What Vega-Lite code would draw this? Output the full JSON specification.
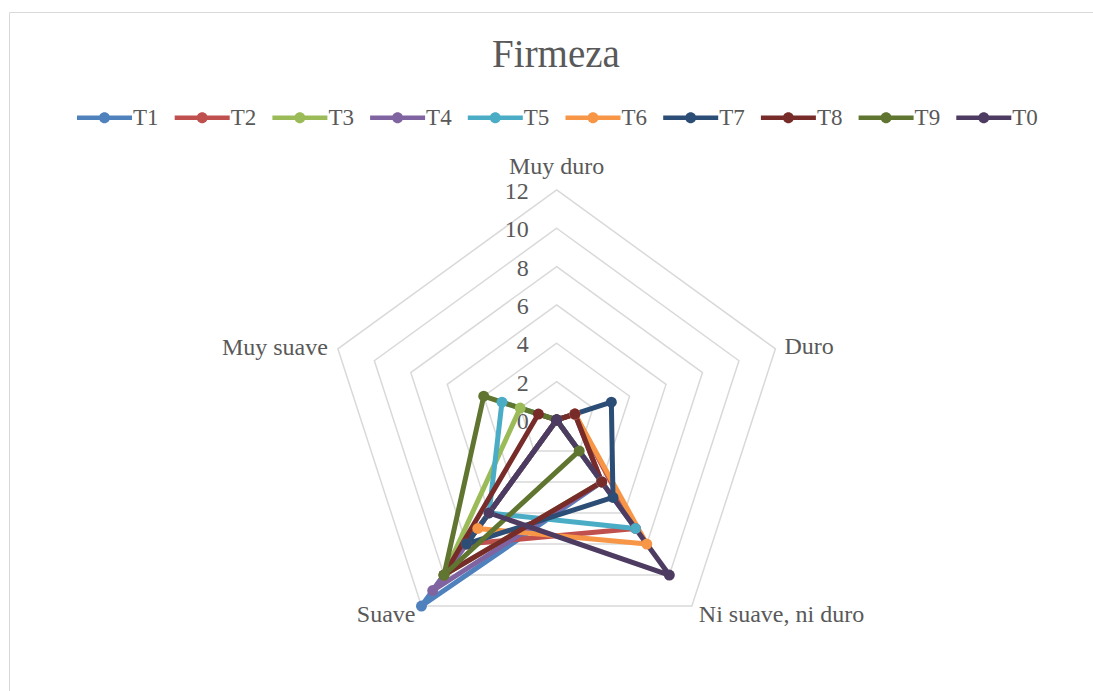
{
  "$schema": "https://vega.github.io/schema/vega-lite/v6.json",
  "width": 1084,
  "height": 679,
  "autosize": {"type": "none"},
  "padding": {"left": 9, "top": 12, "right": 0, "bottom": 0},
  "background": "white",
  "title": {
    "text": "Firmeza",
    "font": "Liberation Serif",
    "fontSize": 39,
    "fontWeight": "normal",
    "color": "#595959",
    "anchor": "middle",
    "baseline": "alphabetic",
    "offset": -94,
    "dx": 5
  },
  "datasets": {
    "firmeza": [
      {"t": "T1", "cat": "Muy duro", "v": 0}, {"t": "T1", "cat": "Duro", "v": 0}, {"t": "T1", "cat": "Ni suave, ni duro", "v": 4}, {"t": "T1", "cat": "Suave", "v": 12}, {"t": "T1", "cat": "Muy suave", "v": 0},
      {"t": "T2", "cat": "Muy duro", "v": 0}, {"t": "T2", "cat": "Duro", "v": 1}, {"t": "T2", "cat": "Ni suave, ni duro", "v": 7}, {"t": "T2", "cat": "Suave", "v": 8}, {"t": "T2", "cat": "Muy suave", "v": 0},
      {"t": "T3", "cat": "Muy duro", "v": 0}, {"t": "T3", "cat": "Duro", "v": 0}, {"t": "T3", "cat": "Ni suave, ni duro", "v": 4}, {"t": "T3", "cat": "Suave", "v": 10}, {"t": "T3", "cat": "Muy suave", "v": 2},
      {"t": "T4", "cat": "Muy duro", "v": 0}, {"t": "T4", "cat": "Duro", "v": 1}, {"t": "T4", "cat": "Ni suave, ni duro", "v": 4}, {"t": "T4", "cat": "Suave", "v": 11}, {"t": "T4", "cat": "Muy suave", "v": 0},
      {"t": "T5", "cat": "Muy duro", "v": 0}, {"t": "T5", "cat": "Duro", "v": 0}, {"t": "T5", "cat": "Ni suave, ni duro", "v": 7}, {"t": "T5", "cat": "Suave", "v": 6}, {"t": "T5", "cat": "Muy suave", "v": 3},
      {"t": "T6", "cat": "Muy duro", "v": 0}, {"t": "T6", "cat": "Duro", "v": 1}, {"t": "T6", "cat": "Ni suave, ni duro", "v": 8}, {"t": "T6", "cat": "Suave", "v": 7}, {"t": "T6", "cat": "Muy suave", "v": 0},
      {"t": "T7", "cat": "Muy duro", "v": 0}, {"t": "T7", "cat": "Duro", "v": 3}, {"t": "T7", "cat": "Ni suave, ni duro", "v": 5}, {"t": "T7", "cat": "Suave", "v": 8}, {"t": "T7", "cat": "Muy suave", "v": 0},
      {"t": "T8", "cat": "Muy duro", "v": 0}, {"t": "T8", "cat": "Duro", "v": 1}, {"t": "T8", "cat": "Ni suave, ni duro", "v": 4}, {"t": "T8", "cat": "Suave", "v": 10}, {"t": "T8", "cat": "Muy suave", "v": 1},
      {"t": "T9", "cat": "Muy duro", "v": 0}, {"t": "T9", "cat": "Duro", "v": 0}, {"t": "T9", "cat": "Ni suave, ni duro", "v": 2}, {"t": "T9", "cat": "Suave", "v": 10}, {"t": "T9", "cat": "Muy suave", "v": 4},
      {"t": "T0", "cat": "Muy duro", "v": 0}, {"t": "T0", "cat": "Duro", "v": 0}, {"t": "T0", "cat": "Ni suave, ni duro", "v": 10}, {"t": "T0", "cat": "Suave", "v": 6}, {"t": "T0", "cat": "Muy suave", "v": 0}
    ],
    "rings": [
      {"level": 2, "k": 0}, {"level": 2, "k": 1}, {"level": 2, "k": 2}, {"level": 2, "k": 3}, {"level": 2, "k": 4},
      {"level": 4, "k": 0}, {"level": 4, "k": 1}, {"level": 4, "k": 2}, {"level": 4, "k": 3}, {"level": 4, "k": 4},
      {"level": 6, "k": 0}, {"level": 6, "k": 1}, {"level": 6, "k": 2}, {"level": 6, "k": 3}, {"level": 6, "k": 4},
      {"level": 8, "k": 0}, {"level": 8, "k": 1}, {"level": 8, "k": 2}, {"level": 8, "k": 3}, {"level": 8, "k": 4},
      {"level": 10, "k": 0}, {"level": 10, "k": 1}, {"level": 10, "k": 2}, {"level": 10, "k": 3}, {"level": 10, "k": 4},
      {"level": 12, "k": 0}, {"level": 12, "k": 1}, {"level": 12, "k": 2}, {"level": 12, "k": 3}, {"level": 12, "k": 4}
    ],
    "ticks": [
      {"level": 0}, {"level": 2}, {"level": 4}, {"level": 6}, {"level": 8}, {"level": 10}, {"level": 12}
    ]
  },
  "layer": [
    {
      "data": {"name": "rings"},
      "transform": [
        {"calculate": "datum.k * 2 * PI / 5", "as": "a"},
        {"calculate": "datum.level * sin(datum.a)", "as": "x"},
        {"calculate": "datum.level * cos(datum.a)", "as": "y"}
      ],
      "mark": {"type": "line", "interpolate": "linear-closed", "stroke": "#D9D9D9", "strokeWidth": 1.5},
      "encoding": {
        "x": {"field": "x", "type": "quantitative", "scale": {"domain": [-28.57, 27.98], "nice": false, "zero": false}, "axis": null},
        "y": {"field": "y", "type": "quantitative", "scale": {"domain": [-14.14, 21.28], "nice": false, "zero": false}, "axis": null},
        "detail": {"field": "level", "type": "nominal"},
        "order": {"field": "k", "type": "quantitative"}
      }
    },
    {
      "data": {"name": "ticks"},
      "transform": [{"calculate": "datum.level", "as": "y"}, {"calculate": "0", "as": "x"}],
      "mark": {"type": "text", "font": "Liberation Serif", "fontSize": 24, "color": "#595959", "align": "right", "baseline": "alphabetic", "dx": -28, "dy": 9},
      "encoding": {
        "x": {"field": "x", "type": "quantitative"},
        "y": {"field": "y", "type": "quantitative"},
        "text": {"field": "level", "type": "quantitative"}
      }
    },
    {
      "data": {"name": "firmeza"},
      "transform": [
        {"calculate": "indexof(['Muy duro', 'Duro', 'Ni suave, ni duro', 'Suave', 'Muy suave'], datum.cat)", "as": "i"},
        {"calculate": "datum.i * 2 * PI / 5", "as": "a"},
        {"calculate": "datum.v * sin(datum.a)", "as": "x"},
        {"calculate": "datum.v * cos(datum.a)", "as": "y"}
      ],
      "layer": [
        {
          "mark": {"type": "line", "interpolate": "linear-closed", "strokeWidth": 5, "strokeJoin": "round", "strokeCap": "round"},
          "encoding": {
            "x": {"field": "x", "type": "quantitative"},
            "y": {"field": "y", "type": "quantitative"},
            "color": {"field": "t", "type": "nominal", "title": null,
              "scale": {
                "domain": ["T1", "T2", "T3", "T4", "T5", "T6", "T7", "T8", "T9", "T0"],
                "range": ["#4F81BD", "#C0504D", "#9BBB59", "#8064A2", "#4BACC6", "#F79646", "#2C4D75", "#772C2A", "#5F7530", "#4D3B62"]
              }
            },
            "order": {"field": "i", "type": "quantitative"}
          }
        },
        {
          "mark": {"type": "point", "filled": true, "size": 120, "opacity": 1},
          "encoding": {
            "x": {"field": "x", "type": "quantitative"},
            "y": {"field": "y", "type": "quantitative"},
            "color": {"field": "t", "type": "nominal", "title": null}
          }
        }
      ]
    },
    {
      "data": {"values": [{"cat": "Muy duro", "r": 12}]},
      "transform": [{"calculate": "datum.r", "as": "y"}, {"calculate": "0", "as": "x"}],
      "mark": {"type": "text", "font": "Liberation Serif", "fontSize": 24, "color": "#595959", "align": "center", "baseline": "alphabetic", "dy": -16},
      "encoding": {"x": {"field": "x", "type": "quantitative"}, "y": {"field": "y", "type": "quantitative"}, "text": {"field": "cat"}}
    },
    {
      "data": {"values": [{"cat": "Duro", "r": 12, "i": 1}]},
      "transform": [{"calculate": "datum.r * sin(datum.i * 2 * PI / 5)", "as": "x"}, {"calculate": "datum.r * cos(datum.i * 2 * PI / 5)", "as": "y"}],
      "mark": {"type": "text", "font": "Liberation Serif", "fontSize": 24, "color": "#595959", "align": "left", "baseline": "alphabetic", "dx": 9, "dy": 5},
      "encoding": {"x": {"field": "x", "type": "quantitative"}, "y": {"field": "y", "type": "quantitative"}, "text": {"field": "cat"}}
    },
    {
      "data": {"values": [{"cat": "Ni suave, ni duro", "r": 12, "i": 2}]},
      "transform": [{"calculate": "datum.r * sin(datum.i * 2 * PI / 5)", "as": "x"}, {"calculate": "datum.r * cos(datum.i * 2 * PI / 5)", "as": "y"}],
      "mark": {"type": "text", "font": "Liberation Serif", "fontSize": 24, "color": "#595959", "align": "left", "baseline": "alphabetic", "dx": 7, "dy": 16},
      "encoding": {"x": {"field": "x", "type": "quantitative"}, "y": {"field": "y", "type": "quantitative"}, "text": {"field": "cat"}}
    },
    {
      "data": {"values": [{"cat": "Suave", "r": 12, "i": 3}]},
      "transform": [{"calculate": "datum.r * sin(datum.i * 2 * PI / 5)", "as": "x"}, {"calculate": "datum.r * cos(datum.i * 2 * PI / 5)", "as": "y"}],
      "mark": {"type": "text", "font": "Liberation Serif", "fontSize": 24, "color": "#595959", "align": "right", "baseline": "alphabetic", "dx": -6, "dy": 16},
      "encoding": {"x": {"field": "x", "type": "quantitative"}, "y": {"field": "y", "type": "quantitative"}, "text": {"field": "cat"}}
    },
    {
      "data": {"values": [{"cat": "Muy suave", "r": 12, "i": 4}]},
      "transform": [{"calculate": "datum.r * sin(datum.i * 2 * PI / 5)", "as": "x"}, {"calculate": "datum.r * cos(datum.i * 2 * PI / 5)", "as": "y"}],
      "mark": {"type": "text", "font": "Liberation Serif", "fontSize": 24, "color": "#595959", "align": "right", "baseline": "alphabetic", "dx": -10, "dy": 6},
      "encoding": {"x": {"field": "x", "type": "quantitative"}, "y": {"field": "y", "type": "quantitative"}, "text": {"field": "cat"}}
    }
  ],
  "config": {
    "view": {"stroke": "#D9D9D9", "strokeWidth": 1},
    "legend": {
      "orient": "none",
      "legendX": 84,
      "legendY": 94,
      "direction": "horizontal",
      "columns": 10,
      "gridAlign": "all",
      "symbolType": "M-2.5,-0.2H2.5V0.2H-2.5Z M-0.5,0A0.5,0.5,0,1,1,0.5,0A0.5,0.5,0,1,1,-0.5,0Z",
      "symbolSize": 484,
      "symbolStrokeWidth": 0,
      "symbolOpacity": 1,
      "labelFont": "Liberation Serif",
      "labelFontSize": 23,
      "labelColor": "#595959",
      "labelOffset": 17,
      "columnPadding": 15.7,
      "padding": 0
    }
  }
}
